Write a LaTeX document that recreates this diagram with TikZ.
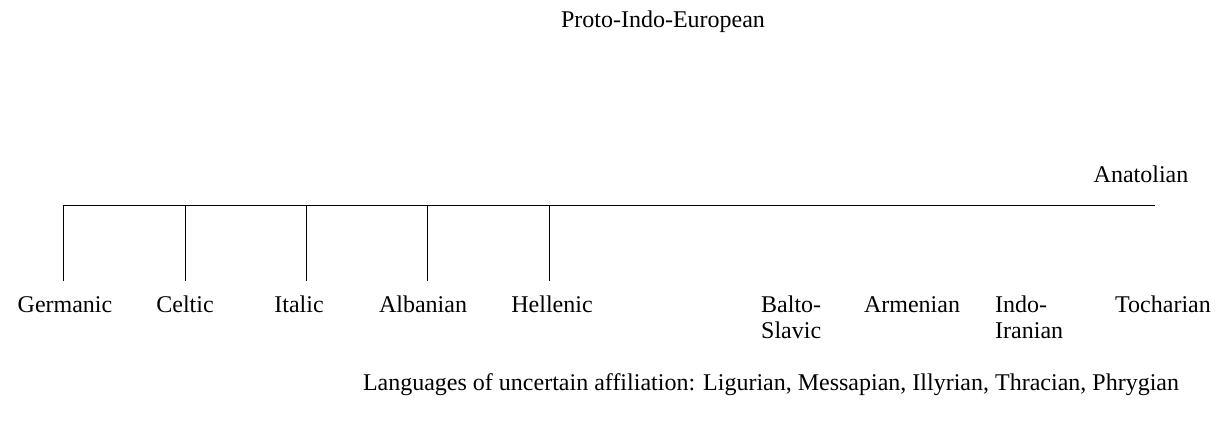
\documentclass[tikz,border=0pt]{standalone}
\usepackage{fontspec}
\setmainfont{Liberation Serif}
\begin{document}
\begin{tikzpicture}[x=1pt,y=-1pt,
  lang/.style={inner sep=0pt, font=\fontsize{24}{26}\selectfont},
  branch/.style={line width=1pt, black}]
\useasboundingbox (0,0) rectangle (1224,421);

% root and the early split
\node[lang, anchor=base] (pie) at (663,27) {Proto-Indo-European};
\node[lang, anchor=base] (anat) at (1141,182) {Anatolian};

% the common bar
\coordinate (barL) at (63,205);
\coordinate (barR) at (1155,205);
\draw[branch] (barL) -- (barR);

% western branches hanging from the bar
\foreach \n/\x in {g/63, c/185, i/306, a/427, h/549} {
  \coordinate (top-\n) at (\x,205);
  \coordinate (end-\n) at (\x,281);
  \draw[branch] (top-\n) -- (end-\n);
}

% branch names
\node[lang, anchor=base] (germanic) at (65,312) {Germanic};
\node[lang, anchor=base] (celtic)   at (185,312) {Celtic};
\node[lang, anchor=base] (italic)   at (299,312) {Italic};
\node[lang, anchor=base] (albanian) at (423,312) {Albanian};
\node[lang, anchor=base] (hellenic) at (552,312) {Hellenic};
\node[lang, anchor=base west, align=left] (balto) at (761,338) {Balto-\\Slavic};
\node[lang, anchor=base] (armenian) at (912,312) {Armenian};
\node[lang, anchor=base west, align=left] (indo) at (995,338) {Indo-\\Iranian};
\node[lang, anchor=base] (tocharian) at (1163,312) {Tocharian};

% note
\node[lang, anchor=base] (note) at (771,390) {Languages of uncertain affiliation: Ligurian, Messapian, Illyrian, Thracian, Phrygian};
\end{tikzpicture}
\end{document}
